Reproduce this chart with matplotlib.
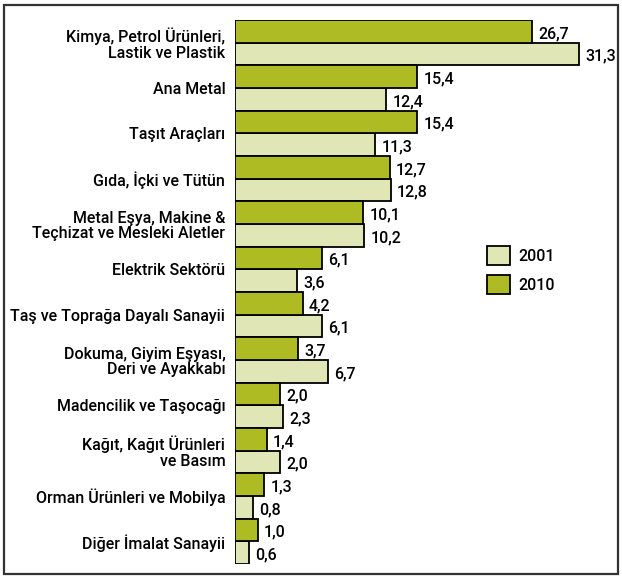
import numpy as np
import matplotlib
matplotlib.use("Agg")
import matplotlib.pyplot as plt
from matplotlib.patches import Patch, Rectangle

categories = [
    "Kimya, Petrol Ürünleri,\nLastik ve Plastik",
    "Ana Metal",
    "Taşıt Araçları",
    "Gıda, İçki ve Tütün",
    "Metal Eşya, Makine &\nTeçhizat ve Mesleki Aletler",
    "Elektrik Sektörü",
    "Taş ve Toprağa Dayalı Sanayii",
    "Dokuma, Giyim Eşyası,\nDeri ve Ayakkabı",
    "Madencilik ve Taşocağı",
    "Kağıt, Kağıt Ürünleri\nve Basım",
    "Orman Ürünleri ve Mobilya",
    "Diğer İmalat Sanayii",
]
values_2010 = [26.7, 15.4, 15.4, 12.7, 10.1, 6.1, 4.2, 3.7, 2.0, 1.4, 1.3, 1.0]
values_2001 = [31.3, 12.4, 11.3, 12.8, 10.2, 3.6, 6.1, 6.7, 2.3, 2.0, 0.8, 0.6]
series_labels = ["2001", "2010"]

c2010 = "#AEBB23"
c2001 = "#E1E6B7"

plt.rcParams['font.family'] = ['Roboto', 'DejaVu Sans']

W, H = 622, 579
fig = plt.figure(figsize=(W / 100, H / 100), dpi=100)

# outer frame
fig.add_artist(Rectangle((4 / W, 5 / H), 614 / W, 569 / H, transform=fig.transFigure,
                         fill=False, lw=1.6, ec="#333333"))

left_px, right_px, top_px, bot_px = 235, 618, 20, 564
ax = fig.add_axes([left_px / W, (H - bot_px) / H, (right_px - left_px) / W, (bot_px - top_px) / H])

# piecewise scale matching the original drawing
v0 = 25 / 12.3
def fwd(v):
    v = np.asarray(v, dtype=float)
    return np.where(v < v0, 22.5 * v, 10.2 * v + 25)
def inv(u):
    u = np.asarray(u, dtype=float)
    return np.where(u < 22.5 * v0, u / 22.5, (u - 25) / 10.2)
ax.set_xscale('function', functions=(fwd, inv))
ax.set_xlim(0, (383 - 25) / 10.2)

n = len(categories)
y = np.arange(n)
h = 0.5
ax.barh(y - 0.25, values_2010, height=h, color=c2010, edgecolor="black", linewidth=1.3, zorder=3)
ax.barh(y + 0.25, values_2001, height=h, color=c2001, edgecolor="black", linewidth=1.3, zorder=2)
ax.set_ylim(n - 0.5, -0.5)

fs = 11.5
for yi, v in zip(y, values_2010):
    ax.annotate(f"{v:.1f}".replace(".", ","), (v, yi - 0.25), xytext=(4.5, -1.5), textcoords="offset points",
                va="center", ha="left", fontsize=fs, fontweight="medium")
for yi, v in zip(y, values_2001):
    ax.annotate(f"{v:.1f}".replace(".", ","), (v, yi + 0.25), xytext=(4.5, -1.5), textcoords="offset points",
                va="center", ha="left", fontsize=fs, fontweight="medium")

ax.set_yticks(y)
ax.set_yticklabels(categories, fontsize=fs, fontweight="medium", linespacing=1.05, ha="right")
ax.tick_params(axis="y", length=0, pad=7)
ax.tick_params(axis="x", bottom=False, labelbottom=False)
ax.xaxis.set_minor_locator(matplotlib.ticker.NullLocator())
for s in ["top", "right", "bottom", "left"]:
    ax.spines[s].set_visible(False)

handles = [Patch(facecolor=c2001, edgecolor="black", linewidth=1.3),
           Patch(facecolor=c2010, edgecolor="black", linewidth=1.3)]
fig.legend(handles, series_labels, loc="upper left", bbox_to_anchor=(487 / W, 1 - 246 / H),
           frameon=False, handlelength=1.45, handleheight=1.45,
           labelspacing=0.65, handletextpad=0.5, borderpad=0, borderaxespad=0,
           prop={"weight": "medium", "size": fs})

fig.savefig("out.png", dpi=100)
